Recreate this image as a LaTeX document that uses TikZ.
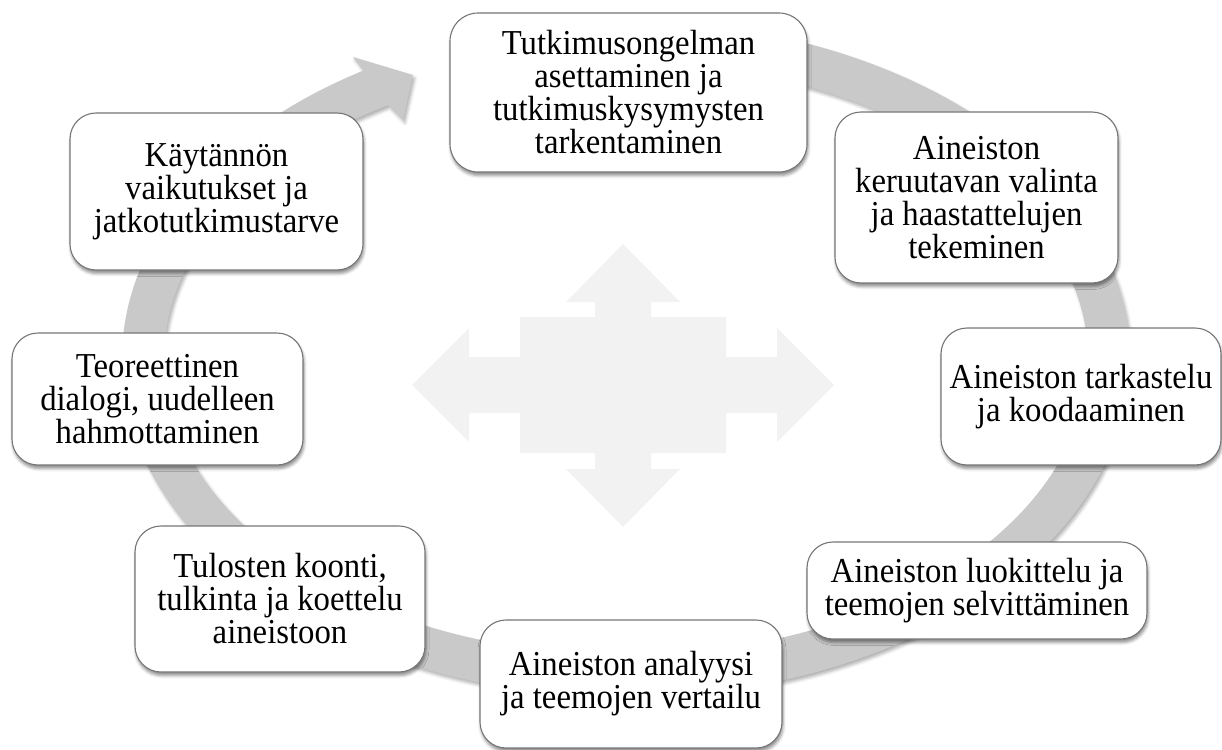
\documentclass[tikz,border=0pt]{standalone}
\usepackage{fontspec}
\setmainfont{Liberation Serif}
\newfontfamily\stagefont[FakeStretch=0.935]{Liberation Serif}
\usetikzlibrary{shadows.blur,calc}
\definecolor{ringgray}{RGB}{201,201,201}
\definecolor{crossgray}{RGB}{242,242,242}
\definecolor{boxline}{RGB}{118,118,118}

\begin{document}
\begin{tikzpicture}[x=1pt,y=-1pt,
  stage/.style={draw=boxline, line width=1.1pt, fill=white, rounded corners=26pt,
    align=center, inner sep=0pt, font=\stagefont\fontsize{35}{33}\selectfont,
    blur shadow={shadow xshift=1pt, shadow yshift=-3.5pt,
      shadow blur radius=3pt, shadow opacity=45}},
  ringshadow/.style={blur shadow={shadow xshift=2pt, shadow yshift=-3pt,
      shadow blur radius=3pt, shadow opacity=30}},
]
\useasboundingbox (0,0) rectangle (1222,749);

% four-way arrow in the middle
\fill[crossgray]
  (623,244) -- (680,302) -- (651,302) -- (651,317) -- (726,317) -- (726,357)
  -- (777,357) -- (777,328) -- (834,385) -- (777,442) -- (777,413) -- (726,413)
  -- (726,453) -- (651,453) -- (651,469) -- (680,469) -- (623,527) -- (566,469)
  -- (595,469) -- (595,453) -- (520,453) -- (520,413) -- (469,413) -- (469,442)
  -- (412,385) -- (469,328) -- (469,357) -- (520,357) -- (520,317) -- (595,317)
  -- (595,302) -- (566,302) -- cycle;

% the cycle: an elliptical band ending in an arrowhead
\coordinate (C) at (626,359);
\fill[ringgray, ringshadow]
  (C) ++(-95:504 and 338)
  arc[start angle=-95, end angle=238.6, x radius=504, y radius=338]
  -- (353,57) -- (413,75) -- (403,120)
  -- ($(C)+(239:462 and 296)$)
  arc[start angle=239, end angle=-95, x radius=462, y radius=296]
  -- cycle;

% stages
\node[stage, minimum width=357pt, minimum height=159pt, rounded corners=28pt] (s1) at (628.5,92.5)
  {Tutkimusongelman\\asettaminen ja\\tutkimuskysymysten\\tarkentaminen};
\node[stage, minimum width=283pt, minimum height=171pt] (s2) at (976.5,197.5)
  {Aineiston\\keruutavan valinta\\ja haastattelujen\\tekeminen};
\node[stage, minimum width=280pt, minimum height=137pt] (s3) at (1081,396.5)
  {Aineiston tarkastelu\\ja koodaaminen};
\node[stage, minimum width=340pt, minimum height=97pt] (s4) at (977,590.5)
  {Aineiston luokittelu ja\\teemojen selvittäminen};
\node[stage, minimum width=302pt, minimum height=128pt] (s5) at (631,684)
  {Aineiston analyysi\\ja teemojen vertailu};
\node[stage, minimum width=290pt, minimum height=146pt] (s6) at (280,599)
  {Tulosten koonti,\\tulkinta ja koettelu\\aineistoon};
\node[stage, minimum width=291pt, minimum height=132pt] (s7) at (157.5,399)
  {Teoreettinen\\dialogi, uudelleen\\hahmottaminen};
\node[stage, minimum width=293pt, minimum height=157pt] (s8) at (216.5,191.5)
  {Käytännön\\vaikutukset ja\\jatkotutkimustarve};
\end{tikzpicture}
\end{document}
